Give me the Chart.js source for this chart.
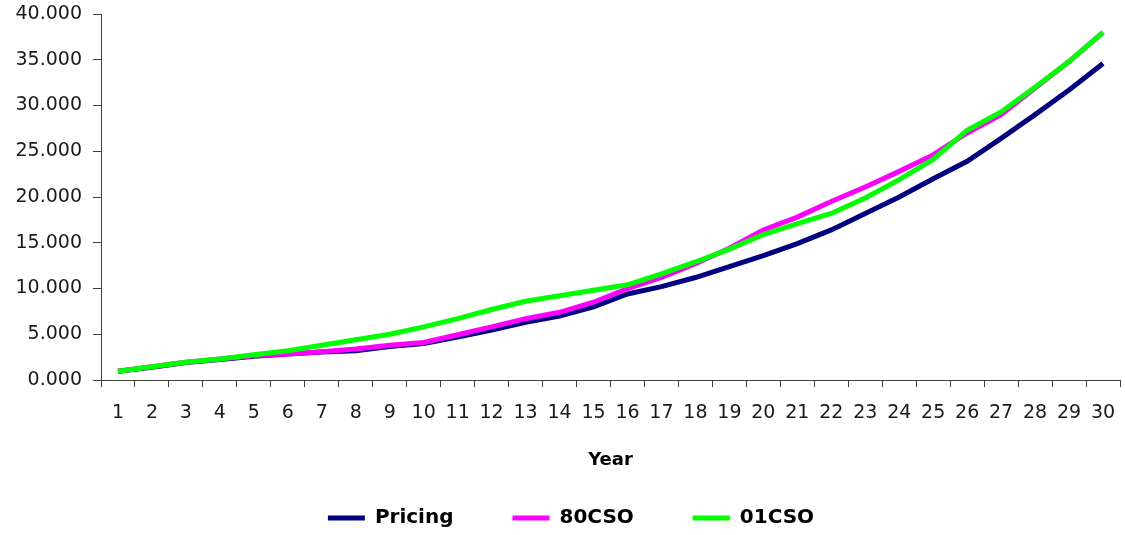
<!DOCTYPE html>
<html>
<head>
<meta charset="utf-8">
<script src="https://cdn.jsdelivr.net/npm/chart.js@4.4.1/dist/chart.umd.min.js"></script>
<style>
  html, body { margin: 0; padding: 0; background: #ffffff; }
  #wrap { width: 1125px; height: 535px; position: relative; }
</style>
</head>
<body>
<div id="wrap"><canvas id="c" width="1125" height="535"></canvas></div>
<script>
// Policy years on the horizontal axis
const years = ['1','2','3','4','5','6','7','8','9','10','11','12','13','14','15',
               '16','17','18','19','20','21','22','23','24','25','26','27','28','29','30'];

// Accumulated values per year for each mortality basis
const pricing = [0.95, 1.4, 1.9, 2.25, 2.6, 2.85, 3.05, 3.2, 3.65, 4.0,
                 4.7, 5.45, 6.3, 7.0, 8.0, 9.4, 10.2, 11.2, 12.4, 13.6,
                 14.9, 16.4, 18.2, 20.0, 22.0, 23.9, 26.4, 29.0, 31.7, 34.6];
const cso80 = [0.95, 1.45, 1.95, 2.3, 2.65, 2.85, 3.1, 3.4, 3.8, 4.1,
               4.95, 5.8, 6.7, 7.4, 8.5, 10.0, 11.2, 12.7, 14.4, 16.4,
               17.8, 19.5, 21.1, 22.8, 24.6, 27.0, 29.0, 31.9, 34.8, 38.0];
const cso01 = [0.95, 1.45, 1.95, 2.3, 2.75, 3.2, 3.8, 4.4, 5.0, 5.8,
               6.7, 7.7, 8.6, 9.2, 9.8, 10.4, 11.6, 12.9, 14.3, 15.9,
               17.1, 18.2, 19.9, 21.9, 24.1, 27.3, 29.3, 32.0, 34.8, 38.0];

// Value axis ticks
const yTicks = [0, 5, 10, 15, 20, 25, 30, 35, 40];

const seriesNames = ['Pricing', '80CSO', '01CSO'];
const seriesColors = ['#000080', '#FF00FF', '#00FF00'];

const FONT = '"DejaVu Sans", Verdana, sans-serif';
const AXIS = '#404040';

// Nudge the legend row a little to the right of the canvas centre
const legendShift = {
  id: 'legendShift',
  afterLayout(chart) {
    if (chart.legend) { chart.legend.left += 22; }
  }
};

new Chart(document.getElementById('c'), {
  type: 'line',
  data: {
    labels: years,
    datasets: [pricing, cso80, cso01].map((vals, i) => ({
      label: seriesNames[i],
      data: vals,
      borderColor: seriesColors[i],
      backgroundColor: seriesColors[i],
      borderWidth: 5,
      pointRadius: 0,
      pointHoverRadius: 0,
      tension: 0,
      fill: false,
      order: 3 - i   // later series are painted over earlier ones
    }))
  },
  plugins: [legendShift],
  options: {
    responsive: false,
    animation: false,
    events: [],
    layout: { padding: { top: 14, right: 5, bottom: -3, left: 0 } },
    scales: {
      x: {
        type: 'category',
        offset: true,
        grid: {
          offset: true,
          drawOnChartArea: false,
          drawTicks: true,
          tickLength: 7,
          color: AXIS,
          lineWidth: 1
        },
        border: { display: true, color: AXIS, width: 1 },
        ticks: {
          color: '#1a1a1a',
          font: { family: FONT, size: 19 },
          padding: 15,
          maxRotation: 0,
          autoSkip: false
        },
        title: {
          display: true,
          text: 'Year',
          color: '#000000',
          font: { family: FONT, size: 18, weight: 'bold' },
          padding: { top: 0, bottom: -22 }
        },
        afterFit: (s) => { s.height = 69; s.paddingLeft = 0; s.paddingRight = 0; }
      },
      y: {
        min: 0,
        max: 40,
        afterBuildTicks: (s) => { s.ticks = yTicks.map(v => ({ value: v })); },
        grid: {
          drawOnChartArea: false,
          drawTicks: true,
          tickLength: 8,
          color: AXIS,
          lineWidth: 1
        },
        border: { display: true, color: AXIS, width: 1 },
        ticks: {
          color: '#1a1a1a',
          font: { family: FONT, size: 19 },
          padding: 11,
          callback: (v) => Number(v).toFixed(3)
        },
        afterFit: (s) => { s.width = 101; s.paddingTop = 0; s.paddingBottom = 0; }
      }
    },
    plugins: {
      legend: {
        display: true,
        position: 'bottom',
        align: 'center',
        labels: {
          color: '#000000',
          font: { family: FONT, size: 20, weight: 'bold' },
          boxWidth: 37,
          boxHeight: 5,
          padding: 59,
          sort: (a, b) => a.datasetIndex - b.datasetIndex,
          generateLabels: (chart) => chart.data.datasets.map((ds, i) => ({
            text: ds.label,
            fillStyle: ds.borderColor,
            strokeStyle: ds.borderColor,
            lineWidth: 0,
            hidden: false,
            datasetIndex: i,
            fontColor: '#000000'
          }))
        }
      },
      tooltip: { enabled: false }
    }
  }
});
</script>
</body>
</html>
